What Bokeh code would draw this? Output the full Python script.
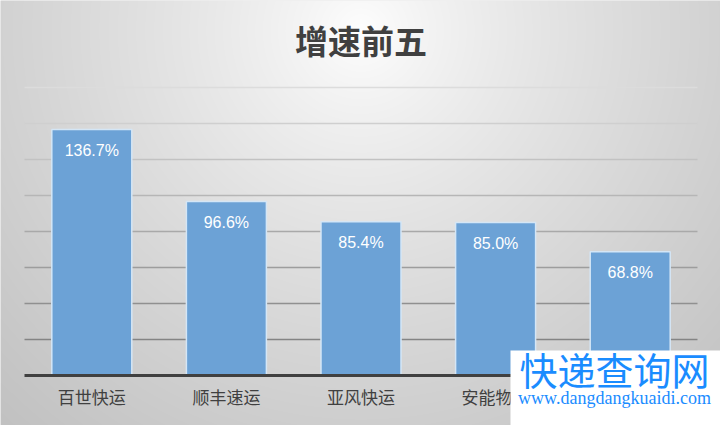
import numpy as np
from bokeh.plotting import figure
from bokeh.models import Range1d, Label, BoxAnnotation, ColumnDataSource
from bokeh.embed import file_html
from bokeh.resources import INLINE

# ---- data ----
title_text = "增速前五"
categories = ["百世快运", "顺丰速运", "亚风快运", "安能物流", "天天快递"]
growth = [136.7, 96.6, 85.4, 85.0, 68.8]
value_labels = ["136.7%", "96.6%", "85.4%", "85.0%", "68.8%"]
grid_values = [20, 40, 60, 80, 100, 120, 140, 160]
watermark_cn = "快递查询网"
watermark_url = "www.dangdangkuaidi.com"

# ---- layout (pixel mapping) ----
W, H = 720, 425
PX_PER_CAT = 134.6
PX_PER_PCT = 1.8
x_start = -91.3 / PX_PER_CAT
x_end = x_start + W / PX_PER_CAT
y_end = 375 / PX_PER_PCT
y_start = y_end - H / PX_PER_PCT

def dx(px):
    return x_start + px / PX_PER_CAT

def dy(py_top):
    return y_end - py_top / PX_PER_PCT

p = figure(width=W, height=H, output_backend="svg", toolbar_location=None,
           x_range=Range1d(x_start, x_end), y_range=Range1d(y_start, y_end),
           min_border=0)
p.axis.visible = False
p.grid.visible = False
p.outline_line_color = None
p.background_fill_color = "#e0e0e0"
p.border_fill_color = "#e0e0e0"

# background gradient (style only)
jj, ii = np.mgrid[0:H, 0:W]
py_top = H - 1 - jj
r = np.sqrt(((ii - W / 2) / 430.0) ** 2 + ((py_top - 30) / 430.0) ** 2)
val = 255 - 52 * np.clip(r, 0, 1.3) ** 0.8
val = np.clip(val, 0, 255).astype(np.uint32)
img = (255 << 24) | (val << 16) | (val << 8) | val
p.image_rgba(image=[img.astype(np.uint32)], x=x_start, y=y_start,
             dw=x_end - x_start, dh=y_end - y_start)

# gridlines (fade toward top)
n = len(grid_values)
grid_colors = []
for k in range(n):
    g = int(0x84 + (0xdc - 0x84) * k / (n - 1))
    grid_colors.append("#%02x%02x%02x" % (g, g, g))
p.segment(x0=[-0.5] * n, x1=[4.5] * n, y0=grid_values, y1=grid_values,
          line_color=grid_colors, line_width=1.6)

idx = list(range(len(categories)))
src = ColumnDataSource(dict(x=idx, top=growth, lab=value_labels, cat=categories))

p.vbar(x="x", top="top", bottom=0, width=80 / PX_PER_CAT, source=src,
       fill_color="#6ca2d6", line_color="#d4e6f6", line_width=1.5)

# baseline axis
p.segment(x0=[-0.5], x1=[4.5], y0=[0], y1=[0], line_color="#404040", line_width=3)

p.text(x="x", y="top", text="lab", source=src, y_offset=21,
       text_align="center", text_baseline="middle", text_color="white",
       text_font={"value": "Liberation Sans"}, text_font_size="16px")

p.text(x="x", y=0, text="cat", source=src, y_offset=21,
       text_align="center", text_baseline="middle", text_color="#404040",
       text_font={"value": "Noto Sans CJK SC"}, text_font_size="17px")

p.add_layout(Label(x=2, y=dy(39), text=title_text, text_align="center",
                   text_baseline="middle", text_color="#404040",
                   text_font="Noto Sans CJK SC", text_font_size="33px",
                   text_font_style="bold"))

# watermark
p.add_layout(BoxAnnotation(left=dx(510), right=x_end + 1, top=dy(350),
                           bottom=y_start - 10, fill_color="white", fill_alpha=1,
                           line_color=None))
p.add_layout(Label(x=dx(614), y=dy(368), text=watermark_cn, text_align="center",
                   text_baseline="middle", text_color="#1a8cff",
                   text_font="Noto Sans CJK SC", text_font_size="38px"))
p.add_layout(Label(x=dx(614), y=dy(397), text=watermark_url, text_align="center",
                   text_baseline="middle", text_color="#1a8cff",
                   text_font="Liberation Serif", text_font_size="18px"))

open("out.html", "w").write(file_html(p, INLINE))
